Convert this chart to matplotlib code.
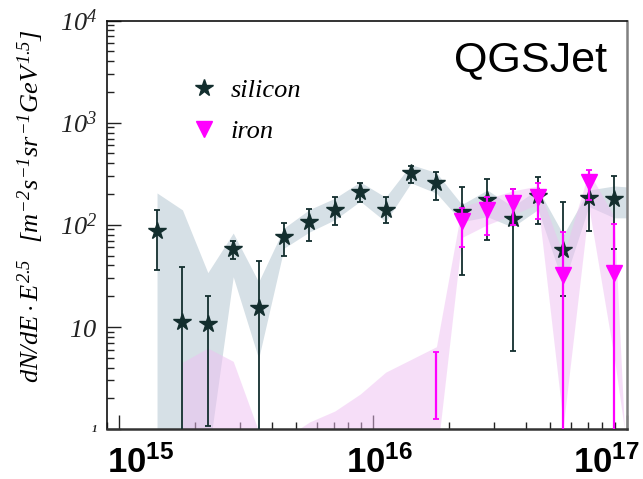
import numpy as np
import matplotlib.pyplot as plt
from matplotlib.transforms import ScaledTranslation

plt.rcParams['mathtext.fontset'] = 'custom'
plt.rcParams['mathtext.rm'] = 'Liberation Serif:italic'
plt.rcParams['mathtext.it'] = 'Liberation Serif:italic'
plt.rcParams['mathtext.bf'] = 'Liberation Sans:bold'

# log10(E / eV) bin centres
log_e = [15.15, 15.25, 15.35, 15.45, 15.55, 15.65, 15.75, 15.85, 15.95, 16.05,
         16.15, 16.25, 16.35, 16.45, 16.55, 16.65, 16.75, 16.85, 16.95]

# silicon flux and stat. error bars
si_val = [86, 11.2, 10.7, 58, 15.4, 76, 107, 141, 210, 141,
          324, 258, 134, 176, 115, 192, 57, 183, 179]
si_lo = [36, 0.5, 1.07, 46, 0.5, 49, 70, 100, 168, 105,
         258, 176, 32, 71, 5.8, 102, 20, 87, 58]
si_hi = [140, 39, 20, 69, 44, 105, 144, 188, 258, 187,
         380, 330, 236, 282, 225, 295, 169, 250, 302]

# silicon systematic band
si_band_loge = log_e + [17.0]
si_band_lo = [0.5, 0.5, 0.5, 31, 4.9, 59, 85, 112, 170, 107,
              257, 204, 107, 120, 95, 141, 26, 151, 117, 117]
si_band_hi = [205, 140, 34, 83, 27.6, 93, 141, 182, 263, 186,
              389, 324, 158, 219, 151, 224, 80, 219, 240, 235]

# iron flux (first bin has no central value inside the range)
fe_loge = [16.25, 16.35, 16.45, 16.55, 16.65, 16.75, 16.85, 16.95]
fe_val = [np.nan, 110, 140, 165, 188, 32, 263, 34]
fe_lo = [1.25, 61, 80, 100, 115, 0.5, 176, 0.5]
fe_hi = [5.7, 147, 188, 225, 258, 85, 345, 102]

# iron systematic band
fe_band_loge = log_e[1:] + [16.99]
fe_band_lo = [0.5] * 11 + [75, 100, 125, 160, 1.1, 150, 5, 1.0]
fe_band_hi = [4.5, 6.2, 4.6, 0.95, 0.8, 1.17, 1.5, 2.2, 3.6, 4.8,
              6.4, 150, 180, 215, 240, 50, 330, 120, 1.0]

y_ticks = [1, 10, 100, 1000, 10000]
y_ticklabels = ['1', r'$10$', r'$10^{2}$', r'$10^{3}$', r'$10^{4}$']
x_ticks = [15, 16, 17]

si_color = '#132e2e'
fe_color = '#ff00ff'

fig = plt.figure(figsize=(6.43, 4.79), dpi=100)
ax = fig.add_axes([0.1664, 0.1044, 0.8086, 0.8526])

E = lambda v: 10.0 ** np.asarray(v)

ax.fill_between(E(si_band_loge), si_band_lo, si_band_hi, color='#d6e0e6',
                lw=0, zorder=1)
ax.fill_between(E(fe_band_loge), fe_band_lo, fe_band_hi, color='#eebff2',
                alpha=0.5, lw=0, zorder=2)

si_val = np.array(si_val, float)
ax.errorbar(E(log_e), si_val,
            yerr=[si_val - np.array(si_lo), np.array(si_hi) - si_val],
            fmt='none', ecolor=si_color, elinewidth=1.3, capsize=2.5,
            capthick=1.3, zorder=3)
ax.plot(E(log_e), si_val, ls='none', marker='*', ms=13, color=si_color,
        mec=si_color, zorder=4, label='silicon')

fe_val = np.array(fe_val, float)
fe_mid = np.where(np.isnan(fe_val), np.sqrt(np.array(fe_lo) * np.array(fe_hi)), fe_val)
ax.errorbar(E(fe_loge), fe_mid,
            yerr=[fe_mid - np.array(fe_lo), np.array(fe_hi) - fe_mid],
            fmt='none', ecolor=fe_color, elinewidth=1.6, capsize=2.5,
            capthick=1.3, zorder=5)
ax.plot(E(fe_loge), fe_val, ls='none', marker='v', ms=11, color=fe_color,
        mec=fe_color, zorder=6, label='iron')

ax.set_xscale('log')
ax.set_yscale('log')
ax.set_xlim(10 ** 14.953, 10 ** 17.0)
ax.set_ylim(1, 10000)

ax.tick_params(which='both', direction='in', top=False, right=False,
               colors='#222222')
ax.tick_params(which='major', length=10, width=1.0)
ax.tick_params(which='minor', length=5, width=1.0)
ax.set_yticks(y_ticks)
ax.set_yticklabels(y_ticklabels, fontsize=19)
ax.tick_params(axis='y', pad=7)
one = ax.get_yticklabels()[0]
one.set_fontsize(8)
one.set_fontweight('bold')
one.set_fontstyle('italic')
one.set_family('Liberation Serif')

# x labels drawn by hand: ROOT shifts the outer ones inside the canvas
ax.set_xticks(E(x_ticks))
ax.set_xticklabels([])
label_shift = [(-12, 'left'), (7, 'center'), (13, 'right')]
for p, (dx, ha) in zip(x_ticks, label_shift):
    off = ScaledTranslation(dx / 100.0, -44 / 100.0, fig.dpi_scale_trans)
    ax.text(10 ** p, 0, r'$\mathbf{10^{%d}}$' % p, fontsize=25, ha=ha,
            va='baseline', transform=ax.get_xaxis_transform() + off,
            clip_on=False)

for side in ['left', 'top']:
    ax.spines[side].set_color('#111111')
    ax.spines[side].set_linewidth(1.2)
ax.spines['bottom'].set_color('#333333')
ax.spines['bottom'].set_linewidth(1.8)
ax.spines['right'].set_color('#808080')
ax.spines['right'].set_linewidth(1.8)

ax.text(0.9615, 0.876, 'QGSJet', transform=ax.transAxes, ha='right',
        va='baseline', fontsize=31, family='Liberation Sans')

ax.legend(loc='upper left', bbox_to_anchor=(0.162, 0.857), frameon=False,
          borderpad=0, borderaxespad=0, handlelength=1.0, handletextpad=0.5,
          labelspacing=0.65,
          prop={'family': 'Liberation Serif', 'style': 'italic', 'size': 19})

fig.text(31 / 643, 1 - 206 / 479,
         r'$dN/dE \cdot E^{2.5}$  $[m^{-2}s^{-1}sr^{-1}GeV^{1.5}]$',
         rotation=90, ha='center', va='center', fontsize=19)

fig.savefig('out.png', dpi=100)
